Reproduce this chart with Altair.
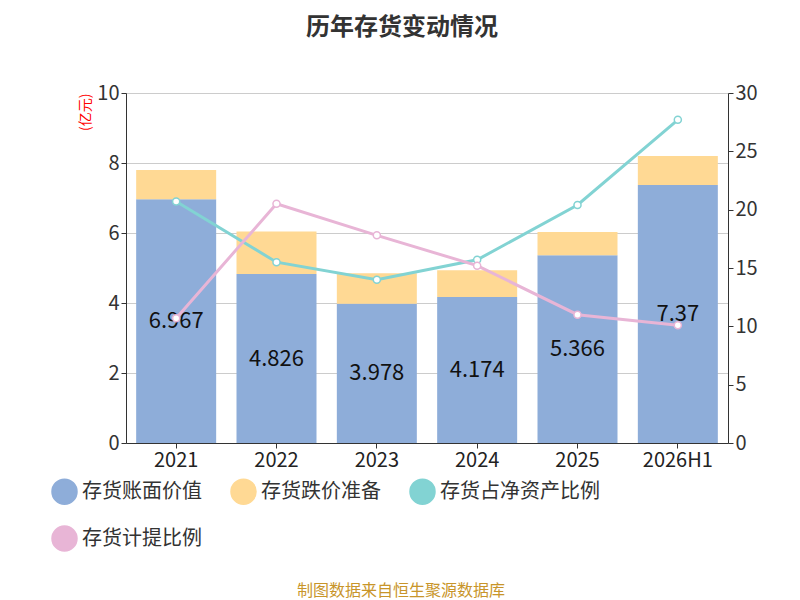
import altair as alt
import pandas as pd

years = ["2021", "2022", "2023", "2024", "2025", "2026H1"]
book = [6.967, 4.826, 3.978, 4.174, 5.366, 7.37]
reserve = [0.83, 1.22, 0.87, 0.76, 0.66, 0.83]
ratio_net = [20.7, 15.5, 14.0, 15.7, 20.4, 27.7]
ratio_prov = [10.7, 20.5, 17.8, 15.2, 11.0, 10.1]
bar_text = ["6.967", "4.826", "3.978", "4.174", "5.366", "7.37"]

names = ["存货账面价值", "存货跌价准备", "存货占净资产比例", "存货计提比例"]
colors = ["#8eadd9", "#ffd994", "#82d3d3", "#e8b5d6"]

bars = pd.DataFrame({
    "year": years * 2,
    "s": [names[0]] * 6 + [names[1]] * 6,
    "v": book + reserve,
    "o": [0] * 6 + [1] * 6,
})
labels = pd.DataFrame({"year": years, "mid": [b / 2 for b in book], "t": bar_text})
lines = pd.DataFrame({
    "year": years * 2,
    "s": [names[2]] * 6 + [names[3]] * 6,
    "v": ratio_net + ratio_prov,
})

color = alt.Color("s:N", scale=alt.Scale(domain=names, range=colors),
                  legend=alt.Legend(title=None, orient="none", legendX=-75, legendY=385,
                                    columns=3, direction="horizontal",
                                    labelFontSize=20, symbolSize=600,
                                    labelColor="#333", symbolStrokeWidth=2,
                                    columnPadding=25, rowPadding=14))
x = alt.X("year:N", sort=years, title=None,
          axis=alt.Axis(labelAngle=0, labelFontSize=20, labelColor="#222",
                        domainColor="#333", tickColor="#333", labelPadding=2))

bar = alt.Chart(bars).mark_bar(size=80).encode(
    x=x,
    y=alt.Y("v:Q", stack="zero", scale=alt.Scale(domain=[0, 10]),
            title="(亿元)",
            axis=alt.Axis(values=[0, 2, 4, 6, 8, 10], labelFontSize=20,
                          titleColor="red", titleFontSize=14, titleFontWeight="normal",
                          titleAngle=270, titleAlign="right", titleY=0,
                          gridColor="#ccc", domainColor="#333", tickColor="#333",
                          labelColor="#333")),
    color=color,
    order=alt.Order("o:Q"),
)
txt = alt.Chart(labels).mark_text(fontSize=22, color="#111").encode(
    x=alt.X("year:N", sort=years), y=alt.Y("mid:Q"), text="t:N")

left = alt.layer(bar, txt)

line = alt.Chart(lines).mark_line(strokeWidth=3).encode(
    x=alt.X("year:N", sort=years),
    y=alt.Y("v:Q", scale=alt.Scale(domain=[0, 30]), title=None,
            axis=alt.Axis(orient="right", values=[0, 5, 10, 15, 20, 25, 30],
                          labelFontSize=20, grid=False,
                          domainColor="#333", tickColor="#333", labelColor="#333")),
    color=color,
)
pts = alt.Chart(lines).mark_point(filled=False, fill="white", fillOpacity=1,
                                  size=50, strokeWidth=1.5, opacity=1).encode(
    x=alt.X("year:N", sort=years), y="v:Q", color=color)
right = alt.layer(line, pts)

footer = alt.Chart(pd.DataFrame({"t": ["制图数据来自恒生聚源数据库"]})).mark_text(
    fontSize=16, color="#c8952a").encode(text="t:N", x=alt.value(275), y=alt.value(498))

chart = alt.layer(left, right, footer).resolve_scale(y="independent").properties(
    width=602, height=350,
    title=alt.TitleParams("历年存货变动情况", fontSize=24, fontWeight="bold",
                          color="#333", offset=43, anchor="middle", dx=-25),
    padding={"left": 43, "top": 8, "right": 5, "bottom": 10},
).configure_view(stroke=None).configure(font="Noto Sans CJK SC")

chart.save("out.html", embed_options={"renderer": "svg", "actions": False})
